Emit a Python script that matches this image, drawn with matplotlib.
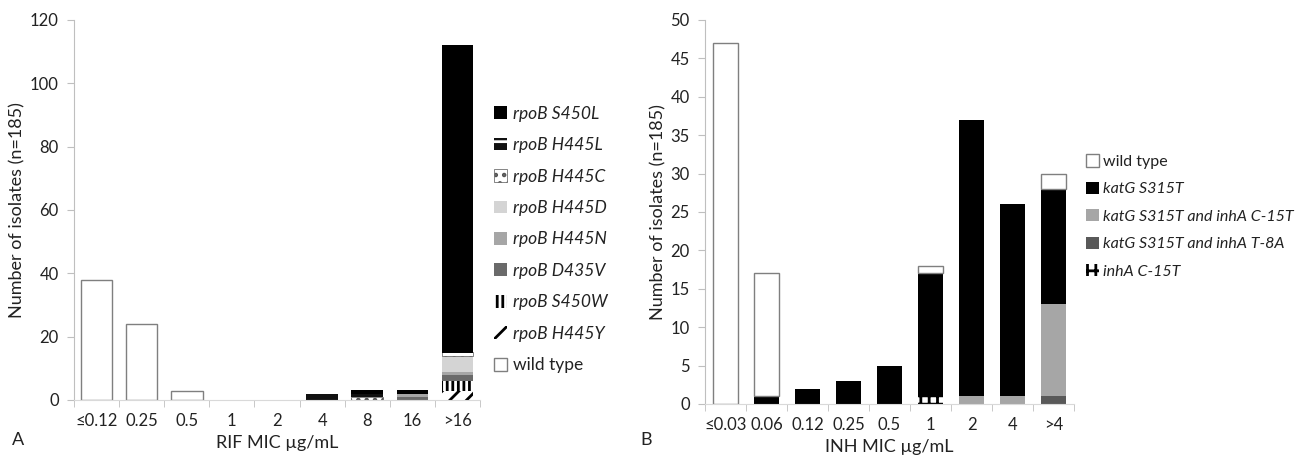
import matplotlib
matplotlib.use("Agg")
import matplotlib.pyplot as plt
import numpy as np
from matplotlib.patches import Patch

plt.rcParams['font.family'] = ['Lato', 'DejaVu Sans']
plt.rcParams['hatch.linewidth'] = 2.0

# ---- Panel A data (RIF) ----
rif_cats = ["≤0.12", "0.25", "0.5", "1", "2", "4", "8", "16", ">16"]
rif_wild = [38, 24, 3, 0, 0, 0, 0, 0, 0]
rif_H445Y = [0, 0, 0, 0, 0, 0, 0, 0, 3]
rif_S450W = [0, 0, 0, 0, 0, 0, 0, 0, 3]
rif_D435V = [0, 0, 0, 0, 0, 0, 0, 1, 2]
rif_H445N = [0, 0, 0, 0, 0, 0, 0, 1, 1]
rif_H445D = [0, 0, 0, 0, 0, 0, 0, 0, 5]
rif_H445C = [0, 0, 0, 0, 0, 0, 1, 0, 1]
rif_H445L = [0, 0, 0, 0, 0, 2, 1, 0, 0]
rif_S450L = [0, 0, 0, 0, 0, 0, 1, 1, 97]

# ---- Panel B data (INH) ----
inh_cats = ["≤0.03", "0.06", "0.12", "0.25", "0.5", "1", "2", "4", ">4"]
inh_inhA = [0, 0, 0, 0, 0, 1, 0, 0, 0]
inh_katG_T8A = [0, 0, 0, 0, 0, 0, 0, 0, 1]
inh_katG_C15T = [0, 0, 0, 0, 0, 0, 1, 1, 12]
inh_katG = [0, 1, 2, 3, 5, 16, 36, 25, 15]
inh_wild = [47, 16, 0, 0, 0, 1, 0, 0, 2]

W, H = 1309, 463
fig = plt.figure(figsize=(W / 100, H / 100), dpi=100)

axA = fig.add_axes([74 / W, 1 - 400 / H, (480 - 74) / W, 380 / H])
axB = fig.add_axes([705 / W, 1 - 404 / H, (1074 - 705) / W, 384 / H])

FS = 12
LFS = 13
TXT = '#222222'
spine_col = '#bfbfbf'


def style_axis(ax, cats, ymax, ystep):
    x = np.arange(len(cats))
    ax.set_xlim(-0.5, len(cats) - 0.5)
    ax.set_ylim(0, ymax)
    ax.set_yticks(np.arange(0, ymax + 0.1, ystep))
    ax.set_xticks(x)
    ax.set_xticklabels(cats, fontsize=FS, color=TXT)
    ax.set_xticks(np.arange(-0.5, len(cats)), minor=True)
    ax.tick_params(axis='x', which='major', length=0, pad=9)
    ax.tick_params(axis='x', which='minor', length=5, color=spine_col, direction='out')
    ax.tick_params(axis='y', length=5, color=spine_col, labelsize=FS, labelcolor=TXT, pad=6)
    for s in ['top', 'right']:
        ax.spines[s].set_visible(False)
    ax.spines['left'].set_color(spine_col)
    ax.spines['bottom'].set_color('#d9d9d9')
    ax.set_ylabel("Number of isolates (n=185)", fontsize=LFS, color=TXT, labelpad=3)
    return x


def stack(ax, x, series, width):
    bottom = np.zeros(len(x))
    handles = []
    for name, vals, kw in series:
        v = np.array(vals, dtype=float)
        m = v > 0
        ax.bar(x[m], v[m], width, bottom=bottom[m], **kw)
        bottom += v
        handles.append(Patch(label=name, **kw))
    return handles


# ---- Panel A ----
xA = style_axis(axA, rif_cats, 120, 20)
seriesA = [
    ("wild type", rif_wild, dict(facecolor='white', edgecolor='#7f7f7f', linewidth=1.0)),
    ("rpoB H445Y", rif_H445Y, dict(facecolor='white', edgecolor='black', hatch='//', linewidth=0)),
    ("rpoB S450W", rif_S450W, dict(facecolor='white', edgecolor='black', hatch='|||', linewidth=0)),
    ("rpoB D435V", rif_D435V, dict(facecolor='#6a6a6a', edgecolor='#6a6a6a', linewidth=0)),
    ("rpoB H445N", rif_H445N, dict(facecolor='#a6a6a6', edgecolor='#a6a6a6', linewidth=0)),
    ("rpoB H445D", rif_H445D, dict(facecolor='#d4d4d4', edgecolor='#d4d4d4', linewidth=0)),
    ("rpoB H445C", rif_H445C, dict(facecolor='white', edgecolor='#555555', hatch='..', linewidth=0.5)),
    ("rpoB H445L", rif_H445L, dict(facecolor='#111111', edgecolor='white', hatch='-', linewidth=0)),
    ("rpoB S450L", rif_S450L, dict(facecolor='black', edgecolor='black', linewidth=0)),
]
handlesA = stack(axA, xA, seriesA, 0.7)
axA.set_xlabel("RIF MIC µg/mL", fontsize=LFS, color=TXT, labelpad=5)

legA = fig.legend(handles=handlesA[::-1], loc='upper left',
                  bbox_to_anchor=(478 / W, 1 - 90 / H), frameon=False,
                  fontsize=12.5, handlelength=0.75, handleheight=0.75,
                  handletextpad=0.35, labelspacing=0.89)
for t in legA.get_texts():
    t.set_color(TXT)
    if t.get_text() != "wild type":
        t.set_fontstyle('italic')

# ---- Panel B ----
xB = style_axis(axB, inh_cats, 50, 5)
seriesB = [
    ("inhA C-15T", inh_inhA, dict(facecolor='white', edgecolor='black', hatch='++', linewidth=0)),
    ("katG S315T and inhA T-8A", inh_katG_T8A, dict(facecolor='#595959', edgecolor='#595959', linewidth=0)),
    ("katG S315T and inhA C-15T", inh_katG_C15T, dict(facecolor='#a6a6a6', edgecolor='#a6a6a6', linewidth=0)),
    ("katG S315T", inh_katG, dict(facecolor='black', edgecolor='black', linewidth=0)),
    ("wild type", inh_wild, dict(facecolor='white', edgecolor='#7f7f7f', linewidth=1.0)),
]
handlesB = stack(axB, xB, seriesB, 0.6)
axB.set_xlabel("INH MIC µg/mL", fontsize=LFS, color=TXT, labelpad=5)

legB = fig.legend(handles=handlesB[::-1], loc='upper left',
                  bbox_to_anchor=(1072 / W, 1 - 140 / H), frameon=False,
                  fontsize=11.5, handlelength=0.8, handleheight=0.8,
                  handletextpad=0.25, labelspacing=0.8)
for t in legB.get_texts():
    t.set_color(TXT)
    if t.get_text() != "wild type":
        t.set_fontstyle('italic')

fig.text(12 / W, 1 - 440 / H, "A", fontsize=LFS, va='center', ha='left', color=TXT)
fig.text(640 / W, 1 - 440 / H, "B", fontsize=LFS, va='center', ha='left', color=TXT)

fig.savefig("out.png", dpi=100, facecolor='white')
